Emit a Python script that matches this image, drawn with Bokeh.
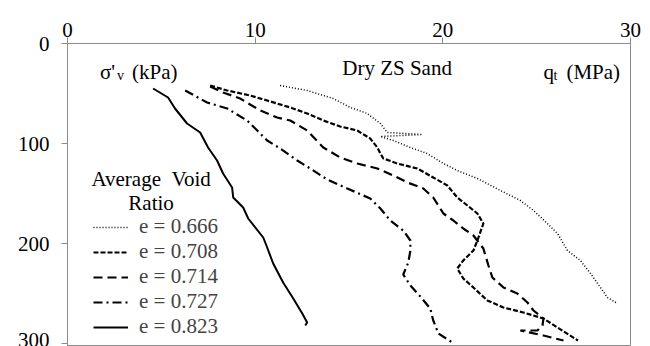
from bokeh.plotting import figure
from bokeh.models import Range1d, FixedTicker, Legend, LegendItem
from bokeh.core.properties import value
from bokeh.embed import file_html
from bokeh.resources import INLINE

# ---- data (qt in MPa, sigma'v in kPa) ----
x_0666 = [11.33, 12.77, 14.16, 15.07, 15.97, 16.67, 17.04, 18.91, 16.67, 17.36, 18.27, 19.17, 20.03, 20.77,
          21.84, 23.07, 24.13, 24.83, 25.57, 26.11, 26.64, 27.33, 27.87, 28.40, 28.77, 29.31]
y_0666 = [42, 47, 55, 64, 70, 80, 89, 91, 93, 97, 104, 110, 120, 127,
          135, 147, 157, 167, 180, 190, 207, 217, 230, 244, 254, 260]

x_0708 = [7.60, 8.51, 9.73, 10.64, 11.87, 12.77, 13.63, 14.53, 15.44, 16.13, 16.51, 16.67, 16.83, 17.57,
          18.64, 19.49, 20.24, 20.77, 21.31, 21.84, 22.16, 21.84, 21.63, 21.09, 20.77, 21.09, 21.63,
          22.37, 23.23, 24.29, 25.36, 26.11, 27.20]
y_0708 = [42, 47, 52, 57, 64, 70, 77, 83, 87, 95, 104, 110, 115, 120,
          125, 134, 142, 154, 162, 170, 180, 197, 207, 217, 225, 235, 244,
          257, 264, 269, 275, 284, 297]

x_0714 = [7.60, 8.29, 9.20, 10.27, 11.17, 11.87, 12.77, 13.63, 14.53, 15.44, 16.51, 17.36, 18.11, 18.96,
          19.49, 20.03, 20.56, 21.09, 21.63, 22.16, 22.43, 22.64, 23.23, 23.97, 24.51, 24.83, 25.36,
          25.31, 25.04, 24.13, 25.36, 26.43]
y_0714 = [43, 49, 55, 67, 74, 77, 87, 104, 114, 120, 125, 132, 139, 145,
          154, 170, 177, 185, 192, 205, 222, 234, 244, 250, 259, 267, 275,
          282, 287, 287, 292, 297]

x_0727 = [6.27, 7.44, 8.51, 9.57, 10.11, 10.64, 11.33, 12.24, 12.93, 13.84, 14.91, 16.13, 16.67, 17.20,
          17.89, 18.27, 18.27, 18.16, 17.89, 18.27, 18.80, 19.33, 19.49, 19.76, 20.51]
y_0727 = [47, 59, 65, 77, 87, 97, 105, 117, 125, 136, 145, 155, 165, 177,
          187, 197, 207, 219, 231, 242, 253, 265, 277, 290, 299]

x_0823 = [4.56, 5.36, 5.73, 6.37, 7.07, 7.49, 7.97, 8.29, 8.77, 8.83, 9.36, 9.63, 10.43, 10.64,
          10.96, 11.49, 12.03, 12.51, 12.77, 12.67]
y_0823 = [45, 54, 65, 80, 89, 104, 117, 130, 144, 154, 164, 175, 194, 204,
          220, 239, 255, 270, 279, 282]

legend_labels = ["e = 0.666", "e = 0.708", "e = 0.714", "e = 0.727", "e = 0.823"]
x_ticks = [0, 10, 20, 30]
y_ticks = [0, 100, 200, 300]

FONT = "'Liberation Serif', 'Times New Roman', serif"
GRAY = "#8c8c8c"

p = figure(width=650, height=346, output_backend="svg", toolbar_location=None,
           x_range=Range1d(0, 30), y_range=Range1d(303, 0), x_axis_location="above",
           min_border_left=67, min_border_right=20, min_border_top=43, min_border_bottom=0)
p.grid.visible = False
p.outline_line_color = GRAY
p.background_fill_color = "white"
p.border_fill_color = "white"

for ax in (p.xaxis[0], p.yaxis[0]):
    ax.axis_line_color = GRAY
    ax.major_tick_line_color = GRAY
    ax.minor_tick_line_color = None
    ax.major_tick_out = 6
    ax.major_tick_in = 0
    ax.major_label_text_font = FONT
    ax.major_label_text_font_size = "21px"
    ax.major_label_text_color = "black"
p.xaxis[0].ticker = FixedTicker(ticks=x_ticks)
p.yaxis[0].ticker = FixedTicker(ticks=y_ticks)
p.xaxis[0].major_label_standoff = 1
p.yaxis[0].major_label_standoff = 12

styles = [
    dict(line_dash="1 2", line_width=1.5),
    dict(line_dash="5 2", line_width=2.2),
    dict(line_dash="9 5", line_width=2.2),
    dict(line_dash="9 4 2 4", line_width=2.2),
    dict(line_dash="solid", line_width=2.0),
]
series = [(x_0666, y_0666), (x_0708, y_0708), (x_0714, y_0714), (x_0727, y_0727), (x_0823, y_0823)]
items = []
for (xs, ys), st, lab in zip(series, styles, legend_labels):
    r = p.line(xs, ys, line_color="black", **st)
    items.append(LegendItem(label=lab, renderers=[r]))

legend = Legend(items=items, location=(26, 7), glyph_width=35, glyph_height=18,
                label_standoff=11, spacing=0, padding=0, margin=0,
                label_text_font=FONT, label_text_font_size="21px", label_height=18,
                border_line_color=None, background_fill_alpha=0)
p.add_layout(legend, "center")

def px2x(px):
    return (px - 67.5) / 18.75

def py2y(py):
    return py - 43

def lab(text, px, py, size="21px", align="left"):
    p.text(x=[px2x(px)], y=[py2y(py)], text=[text], text_font=value(FONT), text_font_size=size,
           text_align=align, text_baseline="alphabetic", text_color="black")

lab("σ'", 100, 71)
lab("v", 117, 75, size="14px")
lab("(kPa)", 132, 71)
lab("Dry ZS Sand", 342, 67)
lab("q", 543, 71)
lab("t", 553, 75, size="14px")
lab("(MPa)", 566, 71)
lab("Average\u00a0\u00a0Void", 151, 178, align="center")
lab("Ratio", 151, 202, align="center")

open("out.html", "w").write(file_html(p, INLINE))
